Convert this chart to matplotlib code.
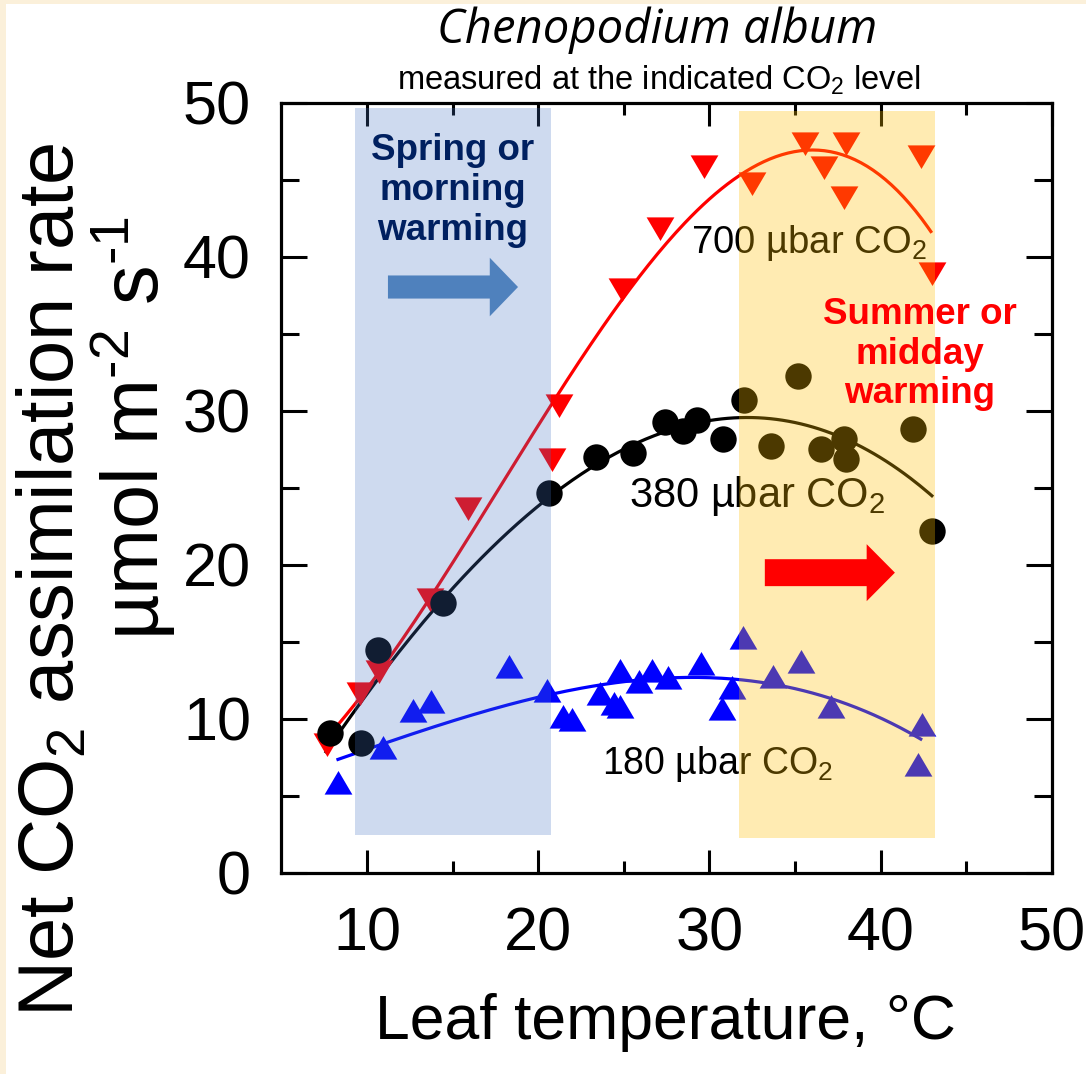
import numpy as np
import matplotlib
matplotlib.use("Agg")
import matplotlib.pyplot as plt
from matplotlib.patches import Rectangle, FancyArrow

# ---------------- data ----------------
t700 = [7.64, 9.59, 10.71, 13.67, 15.9, 20.82, 21.23, 24.9, 27.1, 29.7, 32.5,
        35.58, 36.69, 37.97, 37.87, 42.35, 42.98]
a700 = [8.4, 11.67, 13.1, 17.8, 23.7, 26.9, 30.4, 37.9, 41.9, 45.9, 44.8,
        47.4, 45.86, 47.4, 43.9, 46.56, 38.94]

t380 = [7.83, 9.63, 10.65, 14.45, 20.64, 23.4, 25.55, 27.4, 28.47, 29.3, 30.8,
        32.0, 33.58, 35.19, 36.55, 37.86, 38.0, 41.9, 43.0]
a380 = [9.07, 8.46, 14.5, 17.5, 24.65, 27.0, 27.25, 29.27, 28.7, 29.4, 28.2,
        30.7, 27.7, 32.3, 27.5, 28.16, 26.9, 28.8, 22.2]

t180 = [8.32, 10.91, 12.7, 13.73, 18.3, 20.49, 21.43, 21.99, 23.6, 24.42, 24.77,
        24.77, 25.9, 26.62, 27.56, 29.5, 30.71, 31.3, 31.97, 33.73, 35.38, 37.08,
        42.4, 42.2]
a180 = [5.84, 8.1, 10.5, 11.1, 13.36, 11.8, 10.15, 9.93, 11.6, 11.0, 10.8,
        13.14, 12.4, 13.14, 12.64, 13.57, 10.65, 12.0, 15.24, 12.75, 13.72, 10.8,
        9.6, 7.0]

curve_range700 = (7.64, 42.94)
curve_range380 = (7.6, 43.0)
curve_range180 = (8.3, 42.35)

spring_band = (9.29, 20.74, 2.45, 49.65)
summer_band = (31.72, 43.2, 2.25, 49.5)

xticks = [10, 20, 30, 40, 50]
yticks = [0, 10, 20, 30, 40, 50]

# ---------------- figure ----------------
plt.rcParams['font.family'] = ['Liberation Sans', 'DejaVu Sans']
plt.rcParams['mathtext.fontset'] = 'custom'
plt.rcParams['mathtext.rm'] = 'Liberation Sans'
plt.rcParams['mathtext.it'] = 'Liberation Sans:italic'
plt.rcParams['mathtext.bf'] = 'Liberation Sans:bold'

fig = plt.figure(figsize=(10.86, 10.74), dpi=100)
fig.patch.set_facecolor('#FBF0DA')
fig.add_artist(Rectangle((6 / 1086, 0), 1, 1 - 4 / 1074, transform=fig.transFigure,
                         facecolor='white', edgecolor='none', zorder=0))

ax = fig.add_axes([0.2592, 0.1872, 0.7092, 0.7169])
ax.set_facecolor('none')
ax.set_xlim(5, 50)
ax.set_ylim(0, 50)

tri_up = [(-1, -0.8), (1, -0.8), (0, 0.9), (-1, -0.8)]
tri_dn = [(-1, 0.8), (1, 0.8), (0, -0.9), (-1, 0.8)]


def fit_curve(x, y, rng, deg):
    c = np.polyfit(x, y, deg)
    xx = np.linspace(rng[0], rng[1], 200)
    return xx, np.polyval(c, xx)


for (tx, ay, rng, col, mk, deg) in [
        (t700, a700, curve_range700, '#FF0000', tri_dn, 3),
        (t380, a380, curve_range380, '#000000', 'o', 3),
        (t180, a180, curve_range180, '#0000FF', tri_up, 3)]:
    xx, yy = fit_curve(tx, ay, rng, deg)
    ax.plot(xx, yy, color=col, lw=2.3, zorder=2)
    ms = 19 if mk == 'o' else 20
    ax.plot(tx, ay, linestyle='none', marker=mk, ms=ms, color=col,
            markeredgewidth=0, zorder=3)

# series labels (under the translucent bands)
ax.text(35.8, 40.9, '700 µbar CO$_2$', fontsize=27.5, ha='center', va='center', zorder=2.8)
ax.text(32.8, 24.5, '380 µbar CO$_2$', fontsize=30, ha='center', va='center', zorder=2.8)
ax.text(30.5, 7.1, '180 µbar CO$_2$', fontsize=27, ha='center', va='center', zorder=2.8)

# translucent bands
x0, x1, y0, y1 = spring_band
ax.add_patch(Rectangle((x0, y0), x1 - x0, y1 - y0, facecolor='#4472C4',
                       alpha=0.26, edgecolor='none', zorder=4))
x0, x1, y0, y1 = summer_band
ax.add_patch(Rectangle((x0, y0), x1 - x0, y1 - y0, facecolor='#FFC000',
                       alpha=0.30, edgecolor='none', zorder=4))

# annotations on top
ax.text(15.0, 44.3, 'Spring or\nmorning\nwarming', fontsize=26.5, fontweight='bold',
        color='#002060', ha='center', va='center', linespacing=1.18, zorder=6)
ax.text(42.3, 33.7, 'Summer or\nmidday\nwarming', fontsize=26.5, fontweight='bold',
        color='#FF0000', ha='center', va='center', linespacing=1.18, zorder=6)
ax.add_patch(FancyArrow(11.22, 38.05, 7.6, 0, width=1.5, head_width=3.8,
                        head_length=1.65, length_includes_head=True,
                        facecolor='#4F81BD', edgecolor='none', zorder=6))
ax.add_patch(FancyArrow(33.24, 19.5, 7.6, 0, width=1.75, head_width=3.7,
                        head_length=1.65, length_includes_head=True,
                        facecolor='#FF0000', edgecolor='none', zorder=6))

# axes styling
for s in ax.spines.values():
    s.set_linewidth(2.3)
ax.set_xticks(xticks)
ax.set_yticks(yticks)
ax.set_xticks(np.arange(15, 50, 10), minor=True)
ax.set_yticks(np.arange(5, 50, 10), minor=True)
ax.tick_params(axis='x', which='major', direction='in', length=16.5, width=2.2,
               top=True, bottom=True, labelsize=44, pad=24)
ax.tick_params(axis='x', which='minor', direction='in', length=8.5, width=2.2,
               top=True, bottom=True)
ax.tick_params(axis='y', which='major', direction='in', length=18.5, width=2.2,
               left=True, right=True, labelsize=44, pad=22)
ax.tick_params(axis='y', which='minor', direction='in', length=13, width=2.2,
               left=True, right=True)

# axis titles
fig.text(665 / 1086, 1 - 1022 / 1074, 'Leaf temperature, °C', fontsize=45,
         ha='center', va='center')
fig.text(53 / 1086, 1 - 580 / 1074, 'Net CO$_2$ assimilation rate', fontsize=56,
         rotation=90, ha='center', va='center')
fig.text(133 / 1086, 1 - 428 / 1074, 'µmol m$^{\\text{-}2}$ s$^{\\text{-}1}$', fontsize=57,
         rotation=90, ha='center', va='center')

# titles
fig.text(657 / 1086, 1 - 30 / 1074, 'Chenopodium album', fontsize=34,
         fontstyle='italic', family=['Open Sans', 'DejaVu Sans'],
         ha='center', va='center')
fig.text(659 / 1086, 1 - 80 / 1074, 'measured at the indicated CO$_2$ level', fontsize=23.5,
         family=['Liberation Sans Narrow', 'Liberation Sans', 'DejaVu Sans'],
         ha='center', va='center')

fig.savefig('out.png', dpi=100, facecolor=fig.get_facecolor())
